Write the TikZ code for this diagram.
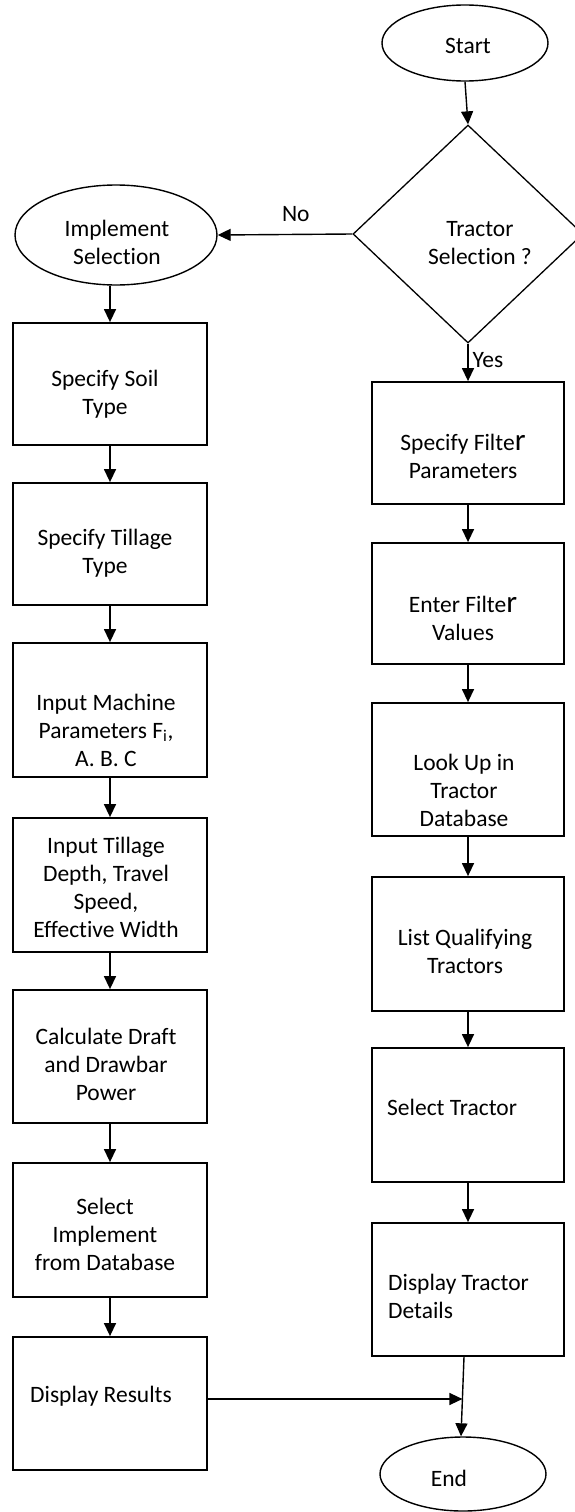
\documentclass[tikz,border=0pt]{standalone}
\usepackage{fontspec}
\setmainfont{Carlito}[Ligatures=NoCommon, Contextuals=NoAlternate, RawFeature={-liga}]
\usetikzlibrary{shapes.geometric,arrows.meta,calc}
\newcommand{\myBigR}{{\fontsize{31}{28}\selectfont r}}
\begin{document}
\begin{tikzpicture}[x=1pt,y=-1pt,
  lbox/.style={draw, line width=1.8pt, minimum width=194pt, inner sep=0pt},
  rbox/.style={draw, line width=1.8pt, minimum width=192pt, inner sep=0pt},
  oval/.style={draw, ellipse, line width=1.4pt, inner sep=0pt},
  txt/.style={align=center, font=\fontsize{23.5}{28}\selectfont, inner sep=0pt},
  ltxt/.style={align=left, anchor=west, font=\fontsize{23.5}{28}\selectfont, inner sep=0pt},
  arr/.style={line width=1.4pt, -{Triangle[length=13pt,width=12pt]}}]
\useasboundingbox (0,0) rectangle (575,1512);
\clip (0,0) rectangle (575,1512);

% terminals and decision
\node[oval, minimum width=166pt, minimum height=76pt] (start) at (465,43) {};
\node[txt] (starttxt) at (468,46) {Start};
\node[draw, diamond, line width=1.3pt, inner sep=0pt, minimum width=230pt, minimum height=218pt] (dia) at (468,234) {};
\node[txt] (diatxt) at (480,243) {Tractor\\Selection ?};
\node[oval, minimum width=202pt, minimum height=100pt] (impl) at (116,235) {};
\node[txt] (impltxt) at (117,242) {Implement\\Selection};
\node[oval, minimum width=166pt, minimum height=74pt] (end) at (463,1474) {};
\node[txt] (endtxt) at (449,1478) {End};

% left column
\node[lbox, minimum height=122pt] (soil) at (110,384) {};
\node[txt] (soiltxt) at (105,394) {Specify Soil\\Type};
\node[lbox, minimum height=122pt] (till) at (110,544) {};
\node[txt] (tilltxt) at (105,553) {Specify Tillage\\Type};
\node[lbox, minimum height=134pt] (mach) at (110,710) {};
\node[txt] (machtxt) at (106,730) {Input Machine\\Parameters F\textsubscript{i},\\A. B. C};
\node[lbox, minimum height=134pt] (depth) at (110,885) {};
\node[txt] (depthtxt) at (106,887) {Input Tillage\\Depth, Travel\\Speed,\\Effective Width};
\node[lbox, minimum height=133pt] (calc) at (110,1056.5) {};
\node[txt] (calctxt) at (106,1064) {Calculate Draft\\and Drawbar\\Power};
\node[lbox, minimum height=134pt] (simp) at (110,1230) {};
\node[txt] (simptxt) at (105,1234) {Select\\Implement\\from Database};
\node[lbox, minimum height=133pt] (dres) at (110,1403.5) {};
\node[ltxt] (drestxt) at (30,1396) {Display Results};

% right column
\node[rbox, minimum height=122pt] (filt) at (468,443) {};
\node[txt] (filttxt) at (463,456) {Specify Filte\myBigR\\Parameters};
\node[rbox, minimum height=121pt] (enter) at (468,603.5) {};
\node[txt] (entertxt) at (463,618) {Enter Filte\myBigR\\Values};
\node[rbox, minimum height=133pt] (look) at (468,769.5) {};
\node[txt] (looktxt) at (464,790) {Look Up in\\Tractor\\Database};
\node[rbox, minimum height=134pt] (list) at (468,944) {};
\node[txt] (listtxt) at (465,951) {List Qualifying\\Tractors};
\node[rbox, minimum height=134pt] (stra) at (468,1115) {};
\node[ltxt] (stratxt) at (387,1107) {Select Tractor};
\node[rbox, minimum height=133pt] (dtra) at (468,1289.5) {};
\node[ltxt] (dtratxt) at (388,1296) {Display Tractor\\Details};

% connectors
\draw[arr] (start.south) -- (dia.north);
\draw[arr] (dia.west) -- node[txt, above=12pt, pos=0.42] (nolbl) {No} (impl.east);
\draw[arr] (dia.south) -- node[txt, right=4pt, pos=0.45] (yeslbl) {Yes} (filt.north);
\draw[arr] (impl.south -| soil.north) -- (soil.north);
\draw[arr] (soil) -- (till);
\draw[arr] (till) -- (mach);
\draw[arr] (mach) -- (depth);
\draw[arr] (depth) -- (calc);
\draw[arr] (calc) -- (simp);
\draw[arr] (simp) -- (dres);
\draw[arr] (filt) -- (enter);
\draw[arr] (enter) -- (look);
\draw[arr] (look) -- (list);
\draw[arr] (list) -- (stra);
\draw[arr] (stra) -- (dtra);
\draw[arr] ([xshift=-4pt]dtra.south) -- ([xshift=-2pt]end.north);
\coordinate (join) at ($([xshift=-4pt]dtra.south)!0.53!([xshift=-2pt]end.north)$);
\draw[arr] (dres.east |- join) -- (join);
\end{tikzpicture}
\end{document}
